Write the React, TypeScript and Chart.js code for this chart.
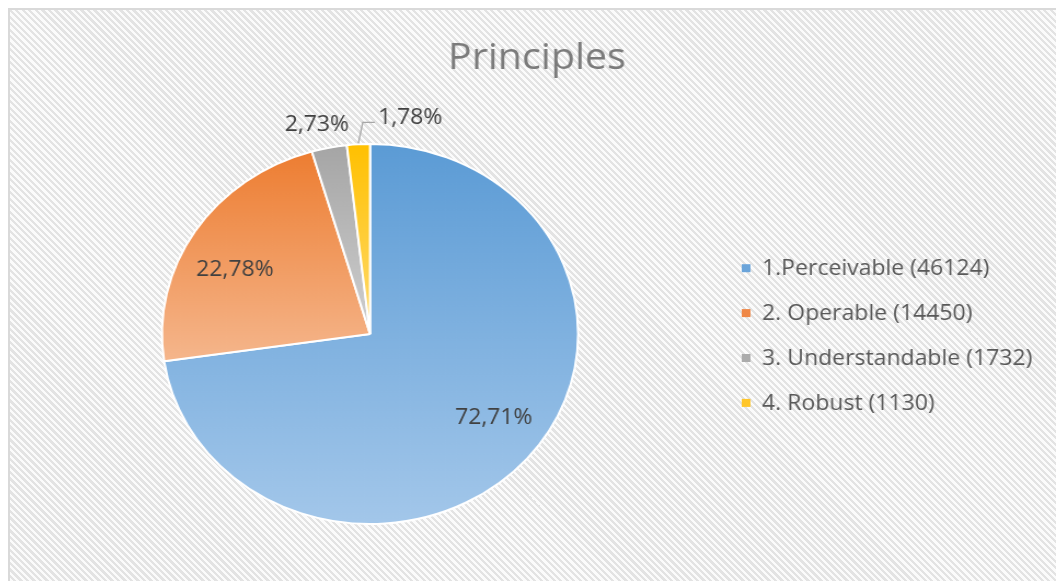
import React, { useEffect, useRef } from "react";
import { Chart, registerables } from "chart.js";

Chart.register(...registerables);

const chartTitle = "Principles";
const categories = [
  "1.Perceivable (46124)",
  "2. Operable (14450)",
  "3. Understandable (1732)",
  "4. Robust (1130)",
];
const values = [46124, 14450, 1732, 1130];
const percentLabels = ["72,71%", "22,78%", "2,73%", "1,78%"];
const topColors = ["#5B9BD5", "#ED7D31", "#A5A5A5", "#FFC000"];
const bottomColors = ["#A3C7EA", "#F5B68C", "#CFCFCF", "#FFDB70"];
const legendColors = ["#6AA4DA", "#EF8746", "#ABABAB", "#FFC62A"];

const CW = 957;
const CH = 573;
const SCALE_X = 1048 / CW;
const FONT = '"Open Sans", "DejaVu Sans", sans-serif';

function sliceGradient(ctx: any) {
  const chart = ctx.chart;
  const area = chart.chartArea;
  const i = ctx.dataIndex;
  if (!area || i === undefined) return topColors[i ?? 0];
  const total = values.reduce((a, b) => a + b, 0);
  let start = -Math.PI / 2;
  for (let k = 0; k < i; k++) start += (values[k] / total) * 2 * Math.PI;
  const end = start + (values[i] / total) * 2 * Math.PI;
  const cy = (area.top + area.bottom) / 2;
  const r = Math.min(area.width, area.height) / 2;
  const ys = [cy, cy + r * Math.sin(start), cy + r * Math.sin(end)];
  for (const a of [-Math.PI / 2, Math.PI / 2, (3 * Math.PI) / 2]) {
    if (a >= start && a <= end) ys.push(cy + r * Math.sin(a));
  }
  const g = chart.ctx.createLinearGradient(0, Math.min(...ys), 0, Math.max(...ys));
  g.addColorStop(0, topColors[i]);
  g.addColorStop(1, bottomColors[i]);
  return g;
}

const overlayPlugin = {
  id: "overlay",
  afterDraw(chart: any) {
    const ctx = chart.ctx as CanvasRenderingContext2D;
    ctx.save();
    // Title
    ctx.font = `36px ${FONT}`;
    ctx.fillStyle = "#7b7b7b";
    ctx.textAlign = "center";
    ctx.textBaseline = "alphabetic";
    ctx.fillText(chartTitle, CW / 2 + 4.5, 61);

    // Data labels
    const meta = chart.getDatasetMeta(0);
    const labelSize = 21;
    ctx.font = `${labelSize}px ${FONT}`;
    ctx.fillStyle = "#404040";
    const capHalf = labelSize * 0.357;
    const total = values.reduce((a, b) => a + b, 0);
    meta.data.forEach((arc: any, i: number) => {
      const { x, y, startAngle, endAngle, outerRadius } = arc.getProps(
        ["x", "y", "startAngle", "endAngle", "outerRadius"],
        true
      );
      const mid = (startAngle + endAngle) / 2;
      const frac = values[i] / total;
      if (frac > 0.05) {
        const d = outerRadius * 0.735;
        const a = mid - 0.085;
        ctx.textAlign = "center";
        ctx.fillText(percentLabels[i], x + d * Math.cos(a), y + d * Math.sin(a) + capHalf);
      } else if (i === 2) {
        const d = outerRadius * 1.14;
        ctx.textAlign = "center";
        ctx.fillText(percentLabels[i], x + d * Math.cos(mid) - 6, y + d * Math.sin(mid) + 2 + capHalf);
      } else {
        const px = x + (outerRadius + 1) * Math.cos(mid);
        const py = y + (outerRadius + 1) * Math.sin(mid);
        const ly = py - 21;
        const lx = px + 4;
        ctx.strokeStyle = "#a6a6a6";
        ctx.lineWidth = 1.3;
        ctx.beginPath();
        ctx.moveTo(px, py);
        ctx.lineTo(lx, ly);
        ctx.lineTo(lx + 11, ly);
        ctx.stroke();
        ctx.textAlign = "left";
        ctx.fillText(percentLabels[i], lx + 14, ly - 6 + capHalf);
      }
    });

    // Legend
    const legendSize = 21;
    ctx.font = `${legendSize}px ${FONT}`;
    ctx.textAlign = "left";
    categories.forEach((c, i) => {
      const cyItem = 259.7 + i * 44.9;
      ctx.fillStyle = legendColors[i];
      ctx.fillRect(670, cyItem - 3.5, 8, 8);
      ctx.fillStyle = "#595959";
      ctx.fillText(c, 688.6, cyItem + legendSize * 0.357);
    });
    ctx.restore();
  },
};

export default function App() {
  const ref = useRef<HTMLCanvasElement>(null);

  useEffect(() => {
    if (!ref.current) return;
    const chart = new Chart(ref.current, {
      type: "pie",
      data: {
        labels: categories,
        datasets: [
          {
            data: values,
            backgroundColor: sliceGradient as any,
            borderColor: "#ffffff",
            borderWidth: 2,
          },
        ],
      },
      options: {
        responsive: false,
        animation: false,
        events: [],
        layout: {
          padding: { left: 139.6, top: 135, right: 435.4, bottom: 56 },
        },
        plugins: {
          legend: { display: false },
          title: { display: false },
          tooltip: { enabled: false },
        },
      },
      plugins: [overlayPlugin],
    });
    return () => chart.destroy();
  }, []);

  return (
    <div
      style={{
        position: "fixed",
        left: 8,
        top: 8,
        right: 0,
        bottom: 0,
        overflow: "hidden",
        boxSizing: "border-box",
        borderTop: "2px solid #d9d9d9",
        borderLeft: "2px solid #d9d9d9",
        background:
          "repeating-linear-gradient(45deg, #fbfbfb 0px, #fbfbfb 2.3px, #e3e3e3 2.3px, #e3e3e3 4.6px)",
      }}
    >
      <div
        style={{
          position: "absolute",
          left: -2,
          top: -2,
          width: CW,
          height: CH,
          transform: `scaleX(${SCALE_X})`,
          transformOrigin: "0 0",
        }}
      >
        <canvas ref={ref} width={CW} height={CH} style={{ display: "block", width: CW, height: CH }} />
      </div>
    </div>
  );
}
